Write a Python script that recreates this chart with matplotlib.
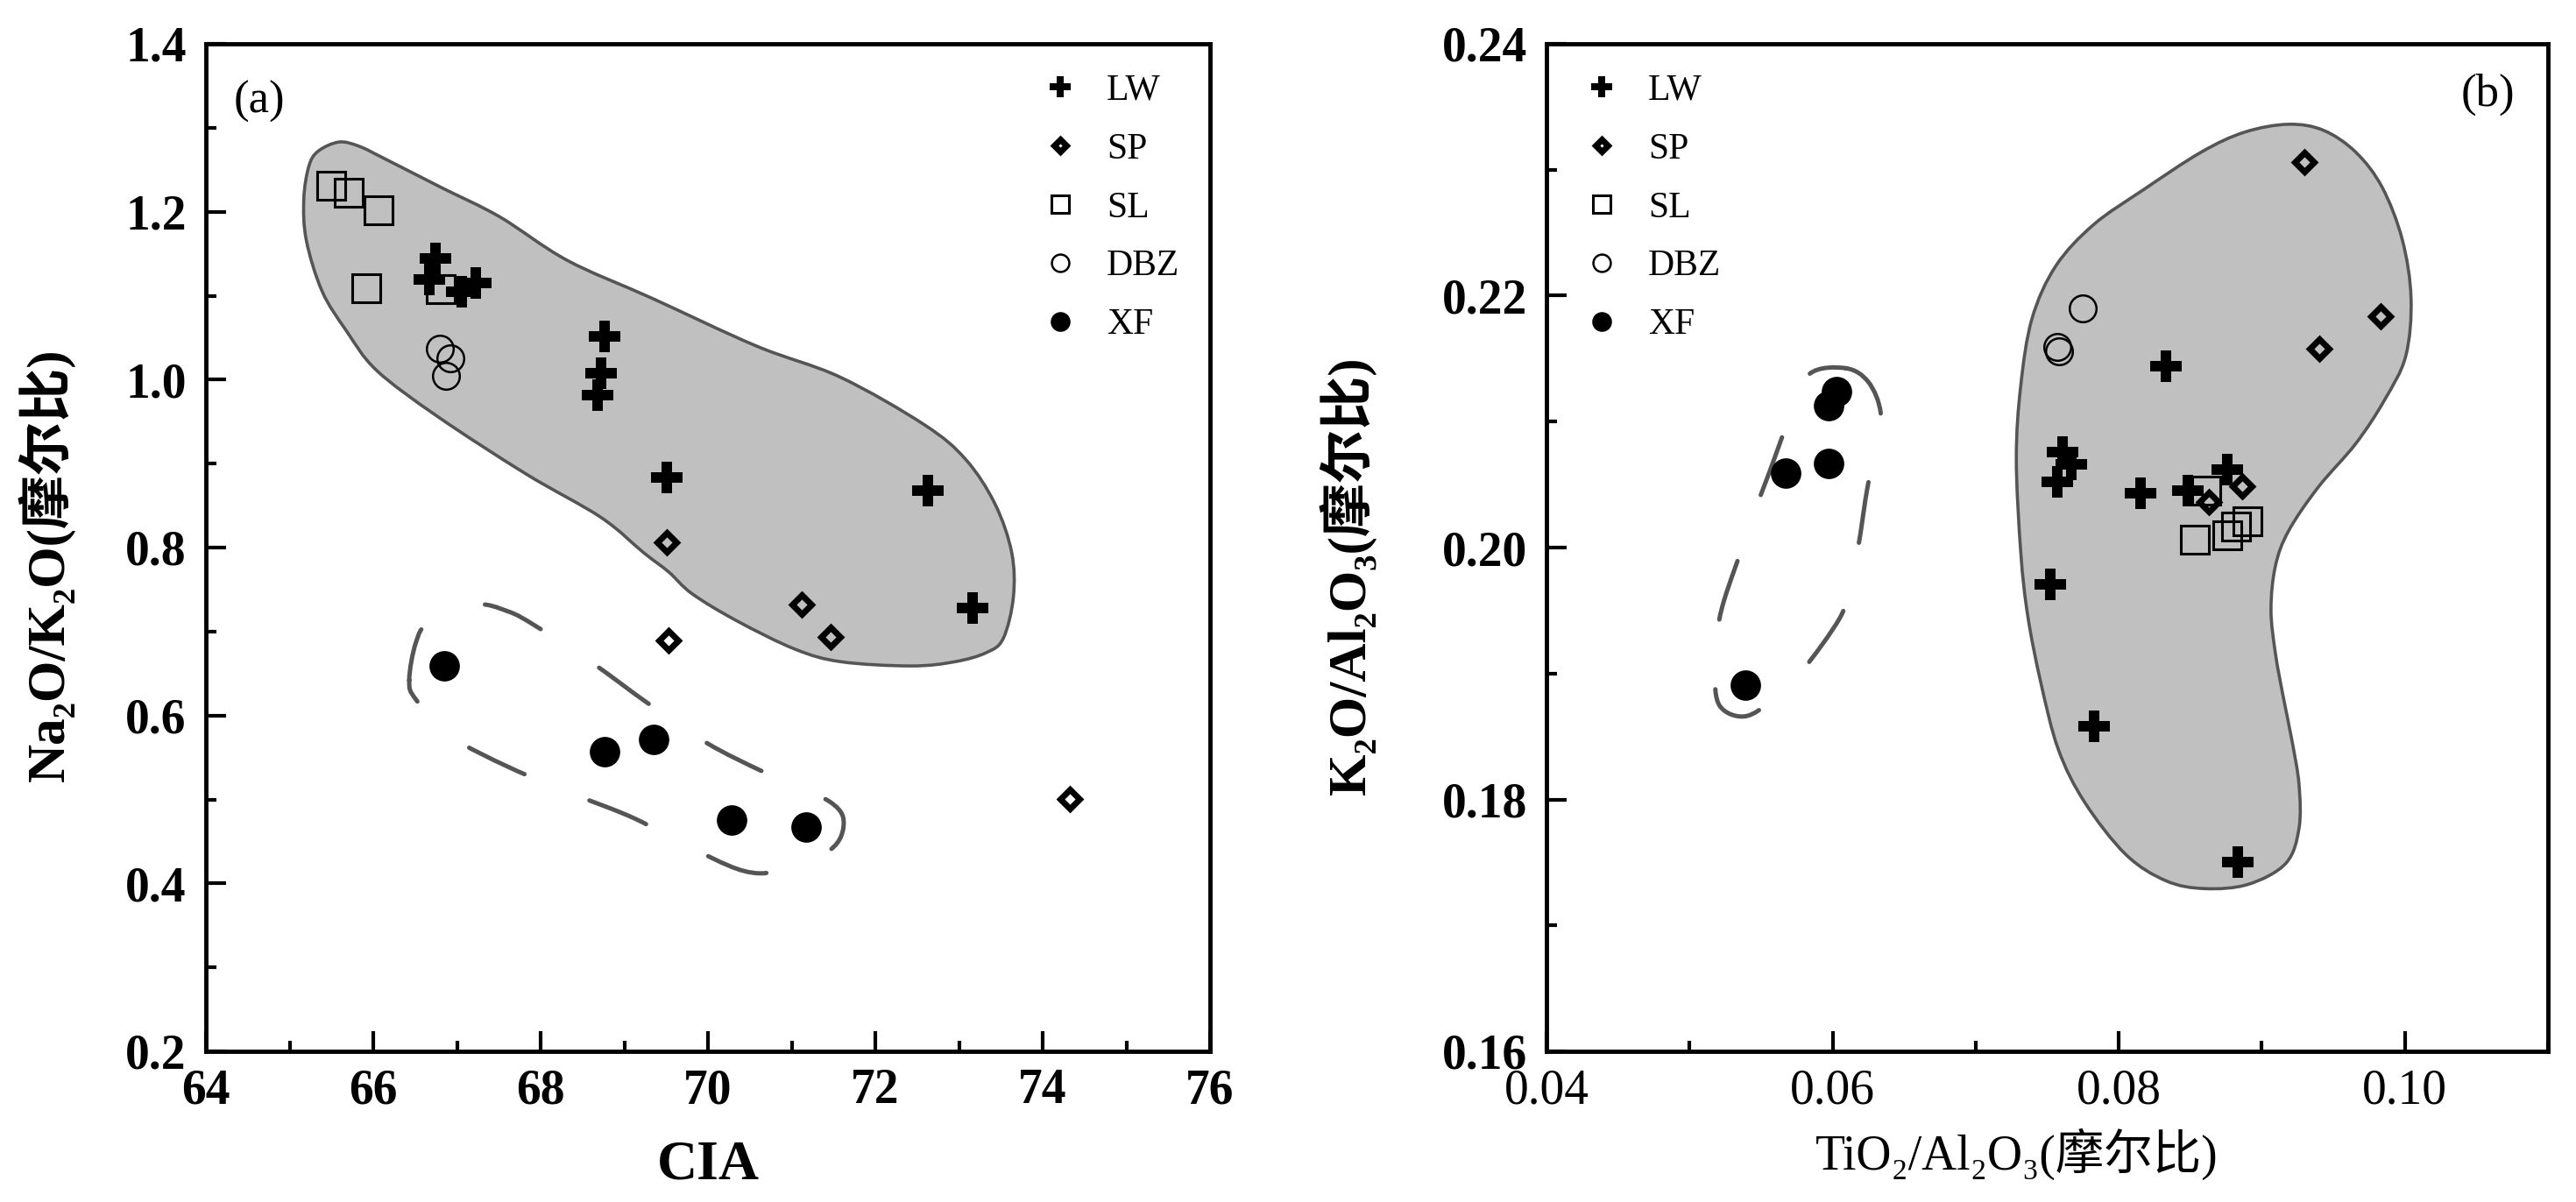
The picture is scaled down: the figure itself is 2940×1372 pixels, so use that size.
import numpy as np
import matplotlib
matplotlib.use('Agg')
import matplotlib.pyplot as plt
from matplotlib.path import Path
from matplotlib.patches import PathPatch
from matplotlib.ticker import MultipleLocator, FormatStrFormatter

plt.rcParams['font.family'] = ['Liberation Serif', 'Noto Sans CJK SC', 'DejaVu Serif']

# ---------------- data: panel (a) CIA vs Na2O/K2O ----------------
LW_a_x = [66.74, 66.67, 67.06, 67.23, 68.76, 68.72, 68.68, 69.51, 72.63, 73.16]
LW_a_y = [1.144, 1.119, 1.105, 1.115, 1.052, 1.008, 0.982, 0.884, 0.868, 0.728]
SP_a_x = [69.51, 71.12, 71.47, 69.53, 74.32]
SP_a_y = [0.806, 0.732, 0.694, 0.689, 0.501]
SL_a_x = [65.50, 65.71, 66.06, 65.92, 66.81]
SL_a_y = [1.231, 1.223, 1.202, 1.109, 1.108]
DBZ_a_x = [66.80, 66.92, 66.87]
DBZ_a_y = [1.037, 1.025, 1.005]
XF_a_x = [66.85, 68.76, 69.35, 70.28, 71.17]
XF_a_y = [0.659, 0.557, 0.572, 0.475, 0.467]

# ---------------- data: panel (b) TiO2/Al2O3 vs K2O/Al2O3 ----------------
LW_b_x = [0.0833, 0.0761, 0.0767, 0.0757, 0.0752, 0.0815, 0.0848, 0.0876, 0.0783, 0.0883]
LW_b_y = [0.2144, 0.2076, 0.2066, 0.2052, 0.1971, 0.2043, 0.2045, 0.2062, 0.1858, 0.1750]
SP_b_x = [0.0930, 0.0983, 0.0940, 0.0886, 0.0863]
SP_b_y = [0.2306, 0.2184, 0.2158, 0.2049, 0.2036]
SL_b_x = [0.0861, 0.0853, 0.0876, 0.0882, 0.0890]
SL_b_y = [0.2045, 0.2006, 0.2010, 0.2017, 0.2021]
DBZ_b_x = [0.0775, 0.0757, 0.0758]
DBZ_b_y = [0.2190, 0.2159, 0.2156]
XF_b_x = [0.0603, 0.0597, 0.0567, 0.0597, 0.0539]
XF_b_y = [0.2124, 0.2113, 0.2059, 0.2067, 0.1891]

# ---------------- outline shapes (data coordinates) ----------------
regA_x = [65.17, 65.23, 65.34, 65.59, 65.83, 66.12, 66.81, 67.51, 68.32, 69.33, 70.58,
          71.58, 72.59, 73.08, 73.43, 73.63, 73.65, 73.53, 73.33, 72.95, 72.43, 71.59,
          71.04, 70.34, 69.81, 69.53, 69.23, 68.72, 67.82, 66.77, 66.04, 65.68, 65.39, 65.20]
regA_y = [1.215, 1.254, 1.272, 1.283, 1.278, 1.264, 1.229, 1.194, 1.142, 1.097, 1.040,
          1.003, 0.946, 0.905, 0.852, 0.794, 0.741, 0.692, 0.675, 0.664, 0.659, 0.664,
          0.679, 0.713, 0.745, 0.771, 0.794, 0.836, 0.888, 0.956, 1.011, 1.058, 1.105, 1.166]

dashA_x = [66.43, 66.51, 66.67, 67.21, 67.61, 67.95, 68.64, 69.29, 69.99, 70.68, 71.46,
           71.62, 71.40, 70.62, 69.88, 69.13, 68.40, 67.63, 66.93, 66.51]
dashA_y = [0.642, 0.687, 0.711, 0.732, 0.724, 0.706, 0.661, 0.614, 0.567, 0.532, 0.497,
           0.468, 0.436, 0.412, 0.438, 0.477, 0.506, 0.538, 0.575, 0.619]

regB_x = [0.08881, 0.09187, 0.09431, 0.09657, 0.09841, 0.09982, 0.10043, 0.10006, 0.09859,
          0.09657, 0.09394, 0.09187, 0.09095, 0.09064, 0.09095, 0.09150, 0.09211, 0.09260,
          0.09260, 0.09168, 0.08905, 0.08599, 0.08330, 0.08049, 0.07761, 0.07578, 0.07456,
          0.07364, 0.07315, 0.07284, 0.07315, 0.07394, 0.07560, 0.07823, 0.08171, 0.08575]
regB_y = [0.23299, 0.23361, 0.23313, 0.23139, 0.22861, 0.22444, 0.21979, 0.21521, 0.21174,
          0.20826, 0.20479, 0.20132, 0.19854, 0.19507, 0.19160, 0.18813, 0.18465, 0.18118,
          0.17771, 0.17493, 0.17326, 0.17292, 0.17354, 0.17563, 0.17979, 0.18396, 0.18924,
          0.19458, 0.19965, 0.20708, 0.21285, 0.21819, 0.22236, 0.22563, 0.22840, 0.23139]

dashB_x = [0.06092, 0.06251, 0.06336, 0.06306, 0.06245, 0.06177, 0.06110, 0.06049, 0.05792,
           0.05590, 0.05388, 0.05211, 0.05174, 0.05193, 0.05242, 0.05388, 0.05468, 0.05560,
           0.05713, 0.05840]
dashB_y = [0.21424, 0.21313, 0.21069, 0.20778, 0.20486, 0.19993, 0.19667, 0.19438, 0.19028,
           0.18799, 0.18660, 0.18743, 0.19021, 0.19319, 0.19583, 0.20063, 0.20326, 0.20604,
           0.21076, 0.21380]

labels = ['LW', 'SP', 'SL', 'DBZ', 'XF']


def closed_bezier(xs, ys):
    P = np.column_stack([xs, ys])
    n = len(P)
    verts = [P[0]]
    codes = [Path.MOVETO]
    for i in range(n):
        p0 = P[i - 1]
        p1 = P[i]
        p2 = P[(i + 1) % n]
        p3 = P[(i + 2) % n]
        c1 = p1 + (p2 - p0) / 6.0
        c2 = p2 - (p3 - p1) / 6.0
        verts += [c1, c2, p2]
        codes += [Path.CURVE4] * 3
    return Path(verts, codes)


fig = plt.figure(figsize=(29.4, 13.72), dpi=100)
W, H = 2940, 1372
axA = fig.add_axes([235 / W, 172 / H, 1146 / W, 1150 / H])
axB = fig.add_axes([1765 / W, 172 / H, 1143 / W, 1150 / H])


def draw_points(ax, lw, sp, sl, dbz, xf):
    ax.plot(*lw, linestyle='none', marker='P', markersize=26, color='black',
            markeredgewidth=0, label=labels[0], zorder=6)
    ax.plot(*sp, linestyle='none', marker='D', markersize=11.5, markerfacecolor='none',
            markeredgecolor='black', markeredgewidth=5.0, label=labels[1], zorder=5)
    ax.plot(*sl, linestyle='none', marker='s', markersize=23, markerfacecolor='none',
            markeredgecolor='black', markeredgewidth=2.2, label=labels[2], zorder=5)
    ax.plot(*dbz, linestyle='none', marker='o', markersize=22, markerfacecolor='none',
            markeredgecolor='black', markeredgewidth=1.8, label=labels[3], zorder=5)
    ax.plot(*xf, linestyle='none', marker='o', markersize=25, color='black',
            markeredgewidth=0, label=labels[4], zorder=5)


def style_axis(ax):
    for s in ax.spines.values():
        s.set_linewidth(3.5)
    ax.tick_params(which='both', direction='in', top=False, right=False, width=3.0)
    ax.tick_params(which='major', length=16.5)
    ax.tick_params(which='minor', length=8.6)
    ax.tick_params(axis='x', which='major', pad=14)
    ax.tick_params(axis='y', which='major', pad=16)


legend_kw = dict(loc='upper left', frameon=False, fontsize=30, markerscale=0.65,
                 handlelength=1.0, handletextpad=0.77, labelspacing=0.68,
                 borderpad=0, borderaxespad=0, numpoints=1)

# ---------------- panel (a) ----------------
axA.add_patch(PathPatch(closed_bezier(regA_x, regA_y), facecolor='#c0c0c0',
                        edgecolor='#555555', linewidth=2.6, zorder=1))
axA.add_patch(PathPatch(closed_bezier(dashA_x, dashA_y), facecolor='none',
                        edgecolor='#555555', linewidth=3.6, linestyle=(2, (14, 16)),
                        capstyle='round', zorder=1))
draw_points(axA, (LW_a_x, LW_a_y), (SP_a_x, SP_a_y), (SL_a_x, SL_a_y),
            (DBZ_a_x, DBZ_a_y), (XF_a_x, XF_a_y))
axA.set_xlim(64, 76)
axA.set_ylim(0.2, 1.4)
axA.xaxis.set_major_locator(MultipleLocator(2))
axA.xaxis.set_minor_locator(MultipleLocator(1))
axA.yaxis.set_major_locator(MultipleLocator(0.2))
axA.yaxis.set_minor_locator(MultipleLocator(0.1))
axA.yaxis.set_major_formatter(FormatStrFormatter('%.1f'))
style_axis(axA)
for t in axA.get_xticklabels() + axA.get_yticklabels():
    t.set_fontsize(40)
    t.set_fontweight('bold')
axA.set_xlabel('CIA', fontsize=46, fontweight='bold')
axA.xaxis.set_label_coords(0.5, -0.088)
axA.set_ylabel('Na₂O/K₂O(摩尔比)', fontsize=44, fontweight='bold')
axA.yaxis.set_label_coords(-0.130, 0.483)
axA.text(0.028, 0.943, '(a)', transform=axA.transAxes, fontsize=38,
         ha='left', va='center')
axA.legend(bbox_to_anchor=(0.8325, 0.970), **legend_kw)

# ---------------- panel (b) ----------------
axB.add_patch(PathPatch(closed_bezier(regB_x, regB_y), facecolor='#c0c0c0',
                        edgecolor='#555555', linewidth=2.6, zorder=1))
axB.add_patch(PathPatch(closed_bezier(dashB_x, dashB_y), facecolor='none',
                        edgecolor='#555555', linewidth=3.6, linestyle=(0, (14, 16)),
                        capstyle='round', zorder=1))
draw_points(axB, (LW_b_x, LW_b_y), (SP_b_x, SP_b_y), (SL_b_x, SL_b_y),
            (DBZ_b_x, DBZ_b_y), (XF_b_x, XF_b_y))
axB.set_xlim(0.04, 0.11)
axB.set_ylim(0.16, 0.24)
axB.xaxis.set_major_locator(MultipleLocator(0.02))
axB.xaxis.set_minor_locator(MultipleLocator(0.01))
axB.yaxis.set_major_locator(MultipleLocator(0.02))
axB.yaxis.set_minor_locator(MultipleLocator(0.01))
axB.xaxis.set_major_formatter(FormatStrFormatter('%.2f'))
axB.yaxis.set_major_formatter(FormatStrFormatter('%.2f'))
style_axis(axB)
for t in axB.get_yticklabels():
    t.set_fontsize(40)
    t.set_fontweight('bold')
for t in axB.get_xticklabels():
    t.set_fontsize(40)
axB.set_xlabel('TiO₂/Al₂O₃(摩尔比)', fontsize=40)
axB.xaxis.set_label_coords(0.47, -0.076)
axB.set_ylabel('K₂O/Al₂O₃(摩尔比)', fontsize=44, fontweight='bold')
axB.yaxis.set_label_coords(-0.170, 0.472)
axB.text(0.94, 0.95, '(b)', transform=axB.transAxes, fontsize=38,
         ha='center', va='center')
axB.legend(bbox_to_anchor=(0.037, 0.970), **legend_kw)

fig.savefig('out.png', dpi=100)
